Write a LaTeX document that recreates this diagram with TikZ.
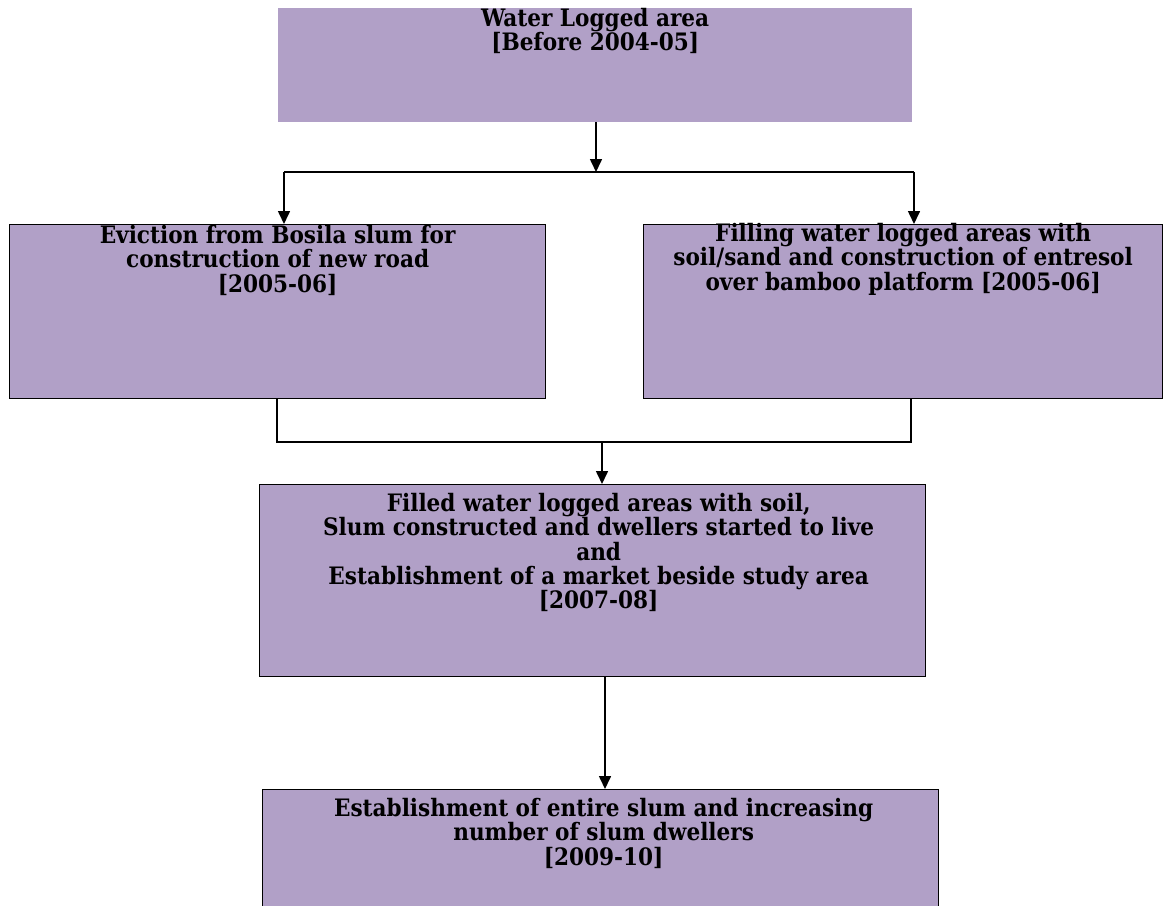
\documentclass[tikz,border=0pt]{standalone}
\usepackage{fontspec}
\setmainfont{DejaVu Serif Condensed}
\usetikzlibrary{arrows.meta}
\definecolor{boxfill}{HTML}{B1A0C7}
\tikzset{
  stage/.style={draw=black, line width=1.3pt, fill=boxfill, inner sep=0pt, anchor=north west},
  plain/.style={fill=boxfill, inner sep=0pt, anchor=north west},
  caption/.style={anchor=north, align=center, inner sep=0pt,
    font=\bfseries\fontsize{24}{24.3}\selectfont},
  link/.style={line width=1.3pt},
  flow/.style={line width=1.6pt, -{Triangle[length=13pt,width=12pt]}}
}
\begin{document}
\begin{tikzpicture}[x=1pt,y=1pt]
\useasboundingbox (0,0) rectangle (1175,-905);
\clip (0,0) rectangle (1175,-905);

% boxes
\node[plain, minimum width=634pt, minimum height=114pt] (top) at (278,-8) {};
\node[stage, minimum width=536pt, minimum height=174pt] (left) at (9,-224) {};
\node[stage, minimum width=519pt, minimum height=174pt] (right) at (643,-224) {};
\node[stage, minimum width=666pt, minimum height=192pt] (mid) at (259,-484) {};
\node[stage, minimum width=676pt, minimum height=140pt] (bot) at (262,-789) {};

% captions
\node[caption] (ttop) at (top.north)
  {Water Logged area\\ {[Before 2004-05]}};
\node[caption] (tleft) at ([yshift=-1pt]left.north)
  {Eviction from Bosila slum for\\ construction of new road\\ {[2005-06]}};
\node[caption] (tright) at ([yshift=1pt]right.north)
  {Filling water logged areas with\\ soil/sand and construction of entresol\\ over bamboo platform [2005-06]};
\node[caption] (tmid) at ([xshift=6pt,yshift=-9pt]mid.north)
  {Filled water logged areas with soil,\\ Slum constructed and dwellers started to live\\ and\\ Establishment of a market beside study area\\ {[2007-08]}};
\node[caption] (tbot) at ([xshift=3pt,yshift=-9pt]bot.north)
  {Establishment of entire slum and increasing\\ number of slum dwellers\\ {[2009-10]}};

% split from the first stage
\coordinate (split) at (596,-172);
\coordinate (splitL) at (284,-172);
\coordinate (splitR) at (914,-172);
\draw[flow] (top.south -| split) -- (split);
\draw[link] (splitL) -- (splitR);
\draw[flow] (splitL) -- (splitL |- left.north);
\draw[flow] (splitR) -- (splitR |- right.north);

% join into the third stage
\coordinate (joinL) at (277,-442);
\coordinate (joinR) at (911,-442);
\coordinate (join) at (602,-442);
\draw[link] (joinL |- left.south) -- (joinL) -- (joinR) -- (joinR |- right.south);
\draw[flow] (join) -- (join |- mid.north);

% last step
\coordinate (down) at (605,-676);
\draw[flow] (down) -- (down |- bot.north);
\end{tikzpicture}
\end{document}
